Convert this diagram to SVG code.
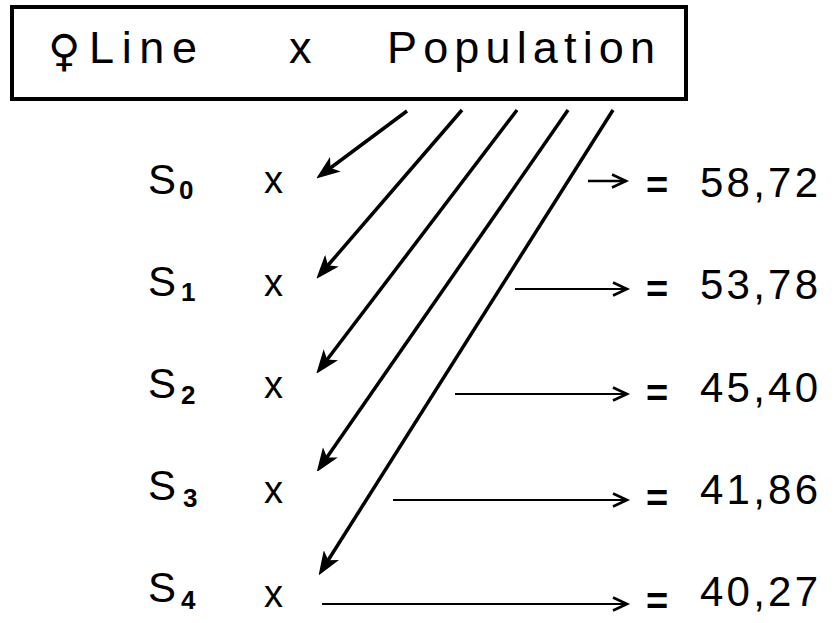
<svg xmlns="http://www.w3.org/2000/svg" width="836" height="623" viewBox="0 0 836 623">
<defs>
<style>
text{font-family:"Liberation Sans","DejaVu Sans",sans-serif;fill:#000}
.title{font-size:45px}
.fem{font-family:"DejaVu Sans",sans-serif;font-size:44px}
.s{font-size:42px}
.sub{font-size:26px;font-weight:bold}
.x{font-size:38px}
.eq{font-size:38px;font-weight:bold}
.num{font-size:42px}
.thick{stroke:#000;stroke-width:3.5;fill:none;marker-end:url(#head)}
.thin{stroke:#000;stroke-width:2;fill:none;marker-end:url(#open)}
</style>
<marker id="head" viewBox="-14 -9 24 18" refX="0" refY="0" markerWidth="24" markerHeight="18" markerUnits="userSpaceOnUse" orient="auto">
<path d="M9,0 L-11,-7.5 L-6,0 L-11,7.5 Z" fill="#000" stroke="#000" stroke-width="1.5" stroke-linejoin="miter"/>
</marker>
<marker id="open" viewBox="-18 -9 22 18" refX="0" refY="0" markerWidth="22" markerHeight="18" markerUnits="userSpaceOnUse" orient="auto">
<path d="M-14,-6.5 L0,0 L-14,6.5" fill="none" stroke="#000" stroke-width="2.6" stroke-linejoin="miter"/>
</marker>
</defs>
<rect width="836" height="623" fill="#fff"/>
<g id="header">
<rect x="12" y="7" width="674" height="92" fill="none" stroke="#000" stroke-width="4"/>
<text class="fem" x="48" y="66">♀</text>
<text class="title" x="89" y="63" textLength="108" lengthAdjust="spacing">Line</text>
<text class="title" x="289" y="63">x</text>
<text class="title" x="387" y="63" textLength="268" lengthAdjust="spacing">Population</text>
</g>
<g id="row0">
<text class="s" x="148" y="194">S</text><text class="sub" x="179" y="199">0</text>
<text class="x" x="264" y="193">x</text>
<text class="eq" x="646" y="198">=</text>
<text class="num" x="700" y="197" textLength="118" lengthAdjust="spacing">58,72</text>
</g>
<g id="row1">
<text class="s" x="148" y="296">S</text><text class="sub" x="181" y="301">1</text>
<text class="x" x="264" y="296">x</text>
<text class="eq" x="646" y="302">=</text>
<text class="num" x="700" y="299" textLength="118" lengthAdjust="spacing">53,78</text>
</g>
<g id="row2">
<text class="s" x="148" y="398">S</text><text class="sub" x="181" y="404">2</text>
<text class="x" x="264" y="398">x</text>
<text class="eq" x="646" y="406">=</text>
<text class="num" x="700" y="402" textLength="118" lengthAdjust="spacing">45,40</text>
</g>
<g id="row3">
<text class="s" x="148" y="500">S</text><text class="sub" x="183" y="507">3</text>
<text class="x" x="264" y="503">x</text>
<text class="eq" x="646" y="511">=</text>
<text class="num" x="700" y="504" textLength="118" lengthAdjust="spacing">41,86</text>
</g>
<g id="row4">
<text class="s" x="148" y="602">S</text><text class="sub" x="181" y="609">4</text>
<text class="x" x="264" y="607">x</text>
<text class="eq" x="646" y="614">=</text>
<text class="num" x="700" y="606" textLength="118" lengthAdjust="spacing">40,27</text>
</g>
<g id="connectors">
<line class="thick" x1="407" y1="111" x2="325" y2="172"/>
<line class="thick" x1="462" y1="110" x2="323.5" y2="270.5"/>
<line class="thick" x1="517" y1="110" x2="323" y2="365"/>
<line class="thick" x1="568" y1="110" x2="323" y2="463"/>
<line class="thick" x1="613" y1="110" x2="324.5" y2="566"/>
<line class="thin" x1="588" y1="181" x2="626" y2="181" style="stroke-width:2.5"/>
<line class="thin" x1="515" y1="289" x2="627" y2="289"/>
<line class="thin" x1="455" y1="394" x2="627" y2="394"/>
<line class="thin" x1="393" y1="500" x2="627" y2="500"/>
<line class="thin" x1="322" y1="604" x2="627" y2="604"/>
</g>
</svg>
